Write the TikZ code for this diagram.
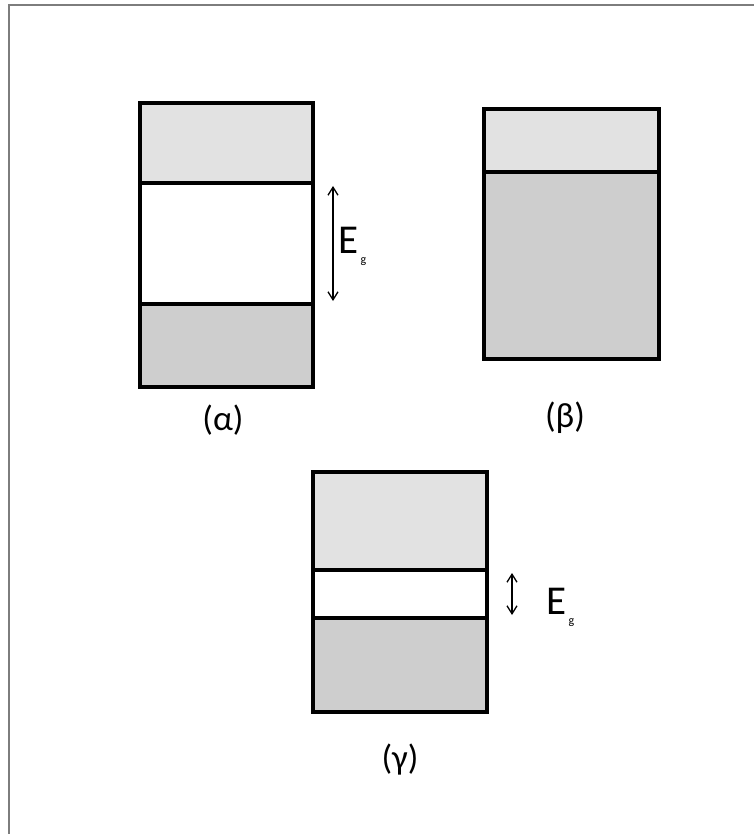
\documentclass[tikz,border=0pt]{standalone}
\usepackage{fontspec}
\setmainfont{Carlito}
\usetikzlibrary{arrows.meta}
\definecolor{bandlight}{RGB}{226,226,226}
\definecolor{banddark}{RGB}{206,206,206}
\definecolor{framegray}{RGB}{125,125,125}
\tikzset{
  band/.style={draw=black, line width=3.5pt, inner sep=0pt, outer sep=0pt},
  lightband/.style={band, fill=bandlight},
  darkband/.style={band, fill=banddark},
  gapband/.style={band, fill=white},
  divider/.style={line width=4.5pt},
  gaparrow/.style={line width=1.3pt, {Straight Barb[length=8pt,width=10pt]}-{Straight Barb[length=8pt,width=10pt]}},
  caption/.style={font=\fontsize{35}{37}\selectfont, inner sep=0pt},
  elabel/.style={font=\fontsize{41}{43}\selectfont, inner sep=0pt, anchor=base west},
  glabel/.style={font=\fontsize{12}{13}\selectfont, inner sep=0pt, anchor=north west},
  frameline/.style={draw=framegray, line width=1.2pt}
}
\begin{document}
\begin{tikzpicture}[x=1pt,y=-1pt]
\useasboundingbox (0,0) rectangle (754,834);
% frame
\coordinate (fbl) at (9,834);
\coordinate (ftl) at (9,5);
\coordinate (ftr) at (754,5);
\draw[frameline] (fbl) -- (ftl) -- (ftr);

% (alpha)
\node[lightband, minimum width=173pt, minimum height=80pt] (atop) at (226.5,143) {};
\node[gapband, minimum width=173pt, minimum height=121pt] (agap) at (226.5,243.5) {};
\node[darkband, minimum width=173pt, minimum height=83pt] (abot) at (226.5,345.5) {};
\draw[divider] (atop.south west) -- (atop.south east);
\draw[divider] (abot.north west) -- (abot.north east);
\coordinate (aup) at (333,186);
\coordinate (adn) at (333,301);
\draw[gaparrow] (aup) -- (adn);
\node[elabel] (aE) at (338,253) {E};
\node[glabel] (ag) at ([xshift=2pt,yshift=-4pt]aE.south east) {g};
\node[caption] (acap) at (223,420) {(α)};

% (beta)
\node[lightband, minimum width=175pt, minimum height=63pt] (btop) at (571.5,140.5) {};
\node[darkband, minimum width=175pt, minimum height=187pt] (bbot) at (571.5,265.5) {};
\draw[line width=4pt] (btop.south west) -- (btop.south east);
\node[caption] (bcap) at (565,418) {(β)};

% (gamma)
\node[lightband, minimum width=174pt, minimum height=98pt] (gtop) at (400,521) {};
\node[gapband, minimum width=174pt, minimum height=48pt] (ggap) at (400,594) {};
\node[darkband, minimum width=174pt, minimum height=94pt] (gbot) at (400,665) {};
\draw[divider] (gtop.south west) -- (gtop.south east);
\draw[divider] (gbot.north west) -- (gbot.north east);
\coordinate (gup) at (512,573);
\coordinate (gdn) at (512,615);
\draw[gaparrow] (gup) -- (gdn);
\node[elabel] (gE) at (546,614) {E};
\node[glabel] (gg) at ([xshift=2pt,yshift=-4pt]gE.south east) {g};
\node[caption] (gcap) at (400,760) {(γ)};
\end{tikzpicture}
\end{document}
